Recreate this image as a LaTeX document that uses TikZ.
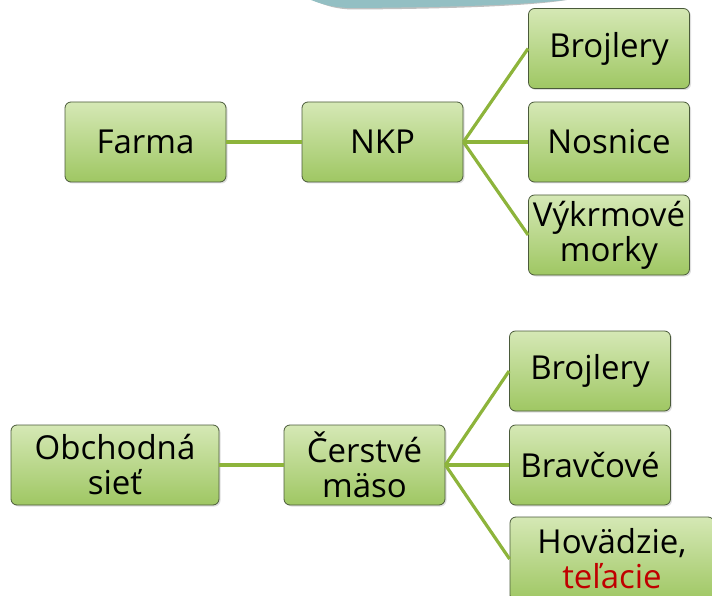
\documentclass[tikz,border=0pt]{standalone}
\usepackage{fontspec}
\setmainfont{Open Sans}
\usetikzlibrary{shadows}
\definecolor{c1}{HTML}{000000}
\definecolor{c2}{HTML}{8DB43B}
\definecolor{boxtop}{HTML}{D5E8B5}
\definecolor{boxbot}{HTML}{9FC763}
\definecolor{boxline}{HTML}{4A5A3A}
\definecolor{bandcolor}{HTML}{93BFC3}
\definecolor{redtext}{HTML}{C00000}

\begin{document}
\begin{tikzpicture}[
    x=1pt, y=-1pt,
    every node/.style={font=\fontsize{33}{35}\selectfont, text=c1},
    box/.style={draw=boxline, line width=0.8pt, rounded corners=6pt,
        top color=boxtop, bottom color=boxbot, align=center,
        minimum width=161pt, minimum height=80pt, inner sep=1pt,
        drop shadow={opacity=0.25, shadow xshift=1.5pt, shadow yshift=-1.5pt}},
    link/.style={draw=c2, line width=3.2pt},
]
\useasboundingbox (0,0) rectangle (712,596);

% the cut-off band at the top
\fill[black!25] (313,0) .. controls (326,6) and (336,9) .. (352,9.5)
    .. controls (450,9) and (530,6) .. (567,0) -- cycle;
\fill[bandcolor] (311,0) .. controls (324,5) and (334,7.5) .. (350,8)
    .. controls (450,7.5) and (530,4.5) .. (565,0) -- cycle;

% ---------------- upper tree
\node[box] (farma) at (145.5, 142) {Farma};
\node[box] (nkp) at (382.5, 142) {NKP};
\node[box] (brojlery) at (609, 48.5) {Brojlery};
\node[box] (nosnice) at (609, 142) {Nosnice};
\node[box] (morky) at (609, 235) {Výkrmové\\morky};

\draw[link] (farma.east) -- (nkp.west);
\foreach \n in {brojlery, nosnice, morky}{
    \draw[link] (nkp.east) -- (\n.west);
}

% ---------------- lower tree
\node[box, minimum width=208pt] (siet) at (115, 465) {Obchodná\\sieť};
\node[box] (maso) at (364.5, 465) {Čerstvé\\mäso};
\node[box] (brojlery2) at (590, 371) {Brojlery};
\node[box] (bravcove) at (590, 465) {Bravčové};
\node[box, minimum width=204pt, minimum height=84pt] (hovadzie) at (612, 559)
    {Hovädzie,\\\textcolor{redtext}{teľacie}};

\draw[link] (siet.east) -- (maso.west);
\foreach \n in {brojlery2, bravcove, hovadzie}{
    \draw[link] (maso.east) -- (\n.west);
}
\end{tikzpicture}
\end{document}
